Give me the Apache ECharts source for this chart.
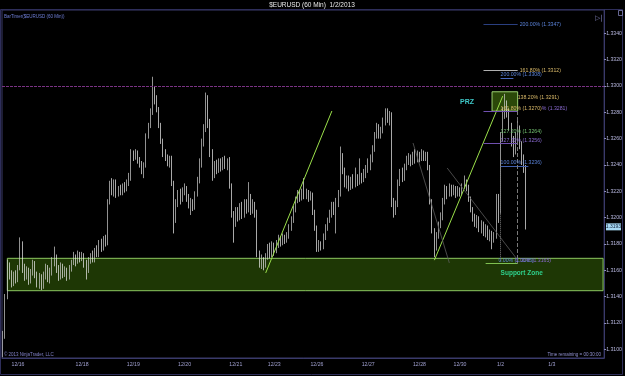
<!DOCTYPE html>
<html><head><meta charset="utf-8">
<script src="https://cdn.jsdelivr.net/npm/echarts@6/dist/echarts.min.js"></script>
<style>html,body{margin:0;padding:0;background:#000;}#c{width:625px;height:376px;}</style>
</head><body><div id="c"></div>
<script>
// ---- data (60-min bars, $EURUSD) ----
const opens = [
1.3098,1.3112,1.3140,1.3163,1.3158,1.3150,1.3157,1.3153,1.3162,1.3180,
1.3163,1.3156,1.3160,1.3152,1.3158,1.3165,1.3157,1.3150,1.3155,1.3148,
1.3156,1.3162,1.3154,1.3158,1.3166,1.3170,1.3161,1.3156,1.3163,1.3157,
1.3160,1.3155,1.3161,1.3166,1.3170,1.3167,1.3172,1.3169,1.3171,1.3165,
1.3160,1.3167,1.3170,1.3168,1.3174,1.3172,1.3180,1.3177,1.3183,1.3181,
1.3212,1.3224,1.3220,1.3227,1.3218,1.3222,1.3219,1.3223,1.3221,1.3226,
1.3229,1.3249,1.3246,1.3250,1.3244,1.3241,1.3237,1.3240,1.3262,1.3270,
1.3280,1.3293,1.3290,1.3282,1.3270,1.3258,1.3250,1.3246,1.3242,1.3245,
1.3226,1.3198,1.3212,1.3218,1.3214,1.3220,1.3222,1.3216,1.3210,1.3212,
1.3208,1.3218,1.3228,1.3240,1.3256,1.3268,1.3290,1.3272,1.3250,1.3232,
1.3240,1.3236,1.3242,1.3238,1.3243,1.3240,1.3242,1.3224,1.3202,1.3196,
1.3205,1.3200,1.3208,1.3203,1.3210,1.3206,1.3212,1.3206,1.3210,1.3204,
1.3172,1.3165,1.3168,1.3163,1.3170,1.3176,1.3172,1.3178,1.3175,1.3180,
1.3184,1.3181,1.3185,1.3183,1.3186,1.3192,1.3198,1.3206,1.3213,1.3219,
1.3215,1.3219,1.3216,1.3219,1.3214,1.3217,1.3204,1.3192,1.3177,1.3180,
1.3178,1.3185,1.3192,1.3198,1.3203,1.3209,1.3206,1.3212,1.3218,1.3247,
1.3236,1.3226,1.3230,1.3224,1.3228,1.3225,1.3230,1.3227,1.3232,1.3229,
1.3234,1.3236,1.3240,1.3244,1.3252,1.3262,1.3268,1.3263,1.3266,1.3272,
1.3280,1.3275,1.3278,1.3212,1.3205,1.3210,1.3226,1.3234,1.3230,1.3238,
1.3242,1.3246,1.3242,1.3247,1.3244,1.3248,1.3245,1.3249,1.3246,1.3248,
1.3238,1.3212,1.3190,1.3178,1.3186,1.3194,1.3200,1.3212,1.3222,1.3218,
1.3223,1.3219,1.3222,1.3218,1.3221,1.3219,1.3224,1.3227,1.3223,1.3214,
1.3206,1.3200,1.3196,1.3199,1.3192,1.3195,1.3189,1.3192,1.3186,1.3188,
1.3184,1.3186,1.3215,1.3205,1.3262,1.3278,1.3285,1.3280,1.3270,1.3258,
1.3250,1.3262,1.3268,1.3256,1.3245,1.3238];
const closes = [
1.3112,1.3140,1.3163,1.3158,1.3150,1.3157,1.3153,1.3162,1.3180,1.3163,
1.3156,1.3160,1.3152,1.3158,1.3165,1.3157,1.3150,1.3155,1.3148,1.3156,
1.3162,1.3154,1.3158,1.3166,1.3170,1.3161,1.3156,1.3163,1.3157,1.3160,
1.3155,1.3161,1.3166,1.3170,1.3167,1.3172,1.3169,1.3171,1.3165,1.3160,
1.3167,1.3170,1.3168,1.3174,1.3172,1.3180,1.3177,1.3183,1.3181,1.3212,
1.3224,1.3220,1.3227,1.3218,1.3222,1.3219,1.3223,1.3221,1.3226,1.3229,
1.3249,1.3246,1.3250,1.3244,1.3241,1.3237,1.3240,1.3262,1.3270,1.3280,
1.3293,1.3290,1.3282,1.3270,1.3258,1.3250,1.3246,1.3242,1.3245,1.3226,
1.3198,1.3212,1.3218,1.3214,1.3220,1.3222,1.3216,1.3210,1.3212,1.3208,
1.3218,1.3228,1.3240,1.3256,1.3268,1.3290,1.3272,1.3250,1.3232,1.3240,
1.3236,1.3242,1.3238,1.3243,1.3240,1.3242,1.3224,1.3202,1.3196,1.3205,
1.3200,1.3208,1.3203,1.3210,1.3206,1.3212,1.3206,1.3210,1.3204,1.3172,
1.3165,1.3168,1.3163,1.3170,1.3176,1.3172,1.3178,1.3175,1.3180,1.3184,
1.3181,1.3185,1.3183,1.3186,1.3192,1.3198,1.3206,1.3213,1.3219,1.3215,
1.3219,1.3216,1.3219,1.3214,1.3217,1.3204,1.3192,1.3177,1.3180,1.3178,
1.3185,1.3192,1.3198,1.3203,1.3209,1.3206,1.3212,1.3218,1.3247,1.3236,
1.3226,1.3230,1.3224,1.3228,1.3225,1.3230,1.3227,1.3232,1.3229,1.3234,
1.3236,1.3240,1.3244,1.3252,1.3262,1.3268,1.3263,1.3266,1.3272,1.3280,
1.3275,1.3278,1.3212,1.3205,1.3210,1.3226,1.3234,1.3230,1.3238,1.3242,
1.3246,1.3242,1.3247,1.3244,1.3248,1.3245,1.3249,1.3246,1.3248,1.3238,
1.3212,1.3190,1.3178,1.3186,1.3194,1.3200,1.3212,1.3222,1.3218,1.3223,
1.3219,1.3222,1.3218,1.3221,1.3219,1.3224,1.3227,1.3223,1.3214,1.3206,
1.3200,1.3196,1.3199,1.3192,1.3195,1.3189,1.3192,1.3186,1.3188,1.3184,
1.3186,1.3215,1.3205,1.3262,1.3278,1.3285,1.3280,1.3270,1.3258,1.3250,
1.3262,1.3268,1.3256,1.3245,1.3238,1.3193];
const lows = [
1.3094,1.3108,1.3138,1.3153,1.3147,1.3148,1.3150,1.3151,1.3160,1.3158,
1.3152,1.3153,1.3149,1.3150,1.3156,1.3154,1.3147,1.3146,1.3145,1.3146,
1.3153,1.3151,1.3150,1.3156,1.3163,1.3158,1.3152,1.3153,1.3154,1.3155,
1.3152,1.3153,1.3159,1.3164,1.3163,1.3165,1.3166,1.3167,1.3162,1.3153,
1.3158,1.3165,1.3166,1.3166,1.3170,1.3170,1.3174,1.3175,1.3178,1.3179,
1.3210,1.3217,1.3216,1.3215,1.3216,1.3217,1.3217,1.3219,1.3220,1.3224,
1.3228,1.3243,1.3244,1.3241,1.3238,1.3233,1.3230,1.3238,1.3260,1.3268,
1.3278,1.3286,1.3280,1.3268,1.3256,1.3246,1.3243,1.3239,1.3238,1.3224,
1.3188,1.3196,1.3208,1.3210,1.3212,1.3217,1.3212,1.3207,1.3202,1.3205,
1.3206,1.3216,1.3226,1.3238,1.3254,1.3265,1.3268,1.3246,1.3228,1.3230,
1.3233,1.3234,1.3235,1.3236,1.3237,1.3236,1.3222,1.3200,1.3181,1.3193,
1.3197,1.3198,1.3199,1.3200,1.3203,1.3204,1.3202,1.3203,1.3200,1.3170,
1.3162,1.3161,1.3160,1.3162,1.3168,1.3169,1.3170,1.3171,1.3173,1.3177,
1.3178,1.3179,1.3180,1.3181,1.3184,1.3190,1.3196,1.3204,1.3211,1.3212,
1.3213,1.3214,1.3214,1.3212,1.3213,1.3202,1.3190,1.3174,1.3174,1.3175,
1.3176,1.3183,1.3190,1.3196,1.3200,1.3202,1.3188,1.3208,1.3216,1.3233,
1.3223,1.3222,1.3220,1.3221,1.3222,1.3223,1.3224,1.3225,1.3226,1.3227,
1.3230,1.3234,1.3236,1.3242,1.3250,1.3260,1.3260,1.3260,1.3264,1.3270,
1.3272,1.3270,1.3208,1.3200,1.3202,1.3208,1.3224,1.3227,1.3228,1.3236,
1.3240,1.3239,1.3240,1.3241,1.3242,1.3242,1.3243,1.3243,1.3243,1.3236,
1.3210,1.3188,1.3170,1.3175,1.3184,1.3192,1.3198,1.3210,1.3214,1.3216,
1.3216,1.3217,1.3215,1.3216,1.3216,1.3217,1.3222,1.3220,1.3212,1.3204,
1.3197,1.3193,1.3192,1.3189,1.3188,1.3186,1.3185,1.3183,1.3182,1.3176,
1.3181,1.3184,1.3196,1.3203,1.3258,1.3275,1.3276,1.3266,1.3254,1.3246,
1.3248,1.3258,1.3252,1.3240,1.3234,1.3191];
const highs = [
1.3114,1.3142,1.3168,1.3166,1.3160,1.3159,1.3160,1.3164,1.3185,1.3182,
1.3165,1.3163,1.3162,1.3161,1.3168,1.3167,1.3159,1.3158,1.3157,1.3159,
1.3165,1.3164,1.3162,1.3170,1.3178,1.3172,1.3164,1.3166,1.3165,1.3163,
1.3162,1.3164,1.3168,1.3174,1.3172,1.3175,1.3174,1.3174,1.3173,1.3168,
1.3170,1.3173,1.3175,1.3177,1.3179,1.3183,1.3184,1.3186,1.3187,1.3214,
1.3228,1.3230,1.3229,1.3229,1.3224,1.3225,1.3226,1.3227,1.3229,1.3234,
1.3252,1.3251,1.3252,1.3251,1.3246,1.3243,1.3242,1.3264,1.3272,1.3283,
1.3307,1.3300,1.3293,1.3284,1.3272,1.3260,1.3252,1.3248,1.3247,1.3247,
1.3228,1.3214,1.3221,1.3222,1.3223,1.3226,1.3224,1.3218,1.3215,1.3214,
1.3220,1.3231,1.3245,1.3260,1.3271,1.3295,1.3293,1.3275,1.3252,1.3243,
1.3244,1.3245,1.3245,1.3246,1.3247,1.3245,1.3246,1.3226,1.3205,1.3208,
1.3208,1.3211,1.3212,1.3214,1.3214,1.3227,1.3218,1.3214,1.3212,1.3206,
1.3175,1.3172,1.3170,1.3173,1.3180,1.3181,1.3182,1.3181,1.3183,1.3187,
1.3186,1.3188,1.3187,1.3189,1.3195,1.3201,1.3209,1.3216,1.3221,1.3221,
1.3222,1.3230,1.3222,1.3221,1.3220,1.3219,1.3206,1.3194,1.3183,1.3182,
1.3188,1.3195,1.3200,1.3206,1.3212,1.3212,1.3215,1.3221,1.3254,1.3249,
1.3238,1.3232,1.3232,1.3231,1.3233,1.3238,1.3233,1.3245,1.3234,1.3237,
1.3240,1.3245,1.3248,1.3255,1.3265,1.3272,1.3271,1.3269,1.3276,1.3283,
1.3283,1.3281,1.3280,1.3215,1.3213,1.3229,1.3237,1.3238,1.3241,1.3247,
1.3249,1.3248,1.3250,1.3252,1.3251,1.3250,1.3252,1.3251,1.3250,1.3250,
1.3240,1.3214,1.3192,1.3189,1.3197,1.3204,1.3215,1.3225,1.3224,1.3226,
1.3225,1.3225,1.3224,1.3224,1.3223,1.3226,1.3232,1.3229,1.3225,1.3216,
1.3208,1.3203,1.3202,1.3201,1.3198,1.3197,1.3195,1.3194,1.3191,1.3190,
1.3189,1.3218,1.3218,1.3265,1.3284,1.3294,1.3289,1.3283,1.3272,1.3262,
1.3265,1.3275,1.3270,1.3258,1.3248,1.3240];

const barCount = 282;                 // hourly slots across the plot (incl. empty future)
const tickIdx  = [7,37,61,85,109,127,147,171,195,214,233,257];
const tickText = ['12/16','12/18','12/19','12/20','12/21','12/23','12/26','12/27','12/28','12/30','1/2','1/3'];
const yTicks   = [1.3100,1.3120,1.3140,1.3160,1.3180,1.3200,1.3220,1.3240,1.3260,1.3280,1.3300,1.3320,1.3340];
const yMin = 1.30934, yMax = 1.33577;

const supportZone = {from:[2,1.31691], to:[281,1.31445]};
const przZone     = {from:[229,1.32956], to:[241,1.32809]};
const resistance  = 1.32939;
const trend1 = [[123,1.3158],[154,1.3281]];
const trend2 = [[202,1.31677],[234,1.32923]];
const pattern1 = [[192,1.32567],[209,1.31656]];
const pattern2 = [[208,1.32377],[241,1.31678]];
const lastPrice = 1.3193;

// ---- chart ----
const chart = echarts.init(document.getElementById('c'), null, {renderer:'canvas'});
const ohlc = opens.map((o,i)=>[o, closes[i], lows[i], highs[i]]);
const cats = Array.from({length:barCount},(_,i)=>String(i));
const labelMap = {}; tickIdx.forEach((k,j)=>{labelMap[k]=tickText[j];});

const FS = 5.2;
const BLUE='#5a82d8', GOLD='#d8b868', PURP='#8a6ad0', GRN='#72c070';
function fibLine(x1,x2,p,color,label,lcolor,type){
  return [{coord:[x1,p],lineStyle:{color:color,width:1,type:type||'solid'},
           label:label?{show:true,position:'end',distance:2,formatter:label,color:lcolor,fontSize:FS}:{show:false}},
          {coord:[x2,p]}];
}
function seg(a,b,color,type,w){
  return [{coord:a,lineStyle:{color:color,width:w||1,type:type||'solid'},label:{show:false}},{coord:b}];
}
function txt(x,p,str,color,opts){
  return Object.assign({coord:[x,p],value:0,symbolSize:0.1,itemStyle:{color:'rgba(0,0,0,0)'},
    label:{show:true,position:'right',distance:0,formatter:str,color:color,fontSize:FS}},opts||{});
}

const option = {
  backgroundColor:'#000',
  animation:false,
  textStyle:{fontFamily:'Liberation Sans'},
  grid:{left:2,right:19,top:10,bottom:18,show:true,borderColor:'#3a3a6a',borderWidth:1},
  xAxis:{type:'category',data:cats,boundaryGap:true,
    axisLine:{show:true,lineStyle:{color:'#3a3a6a'}},axisTick:{show:false},splitLine:{show:false},
    axisLabel:{interval:(i)=>labelMap[i]!==undefined,formatter:(v,i)=>labelMap[i]||'',color:'#a0a0d0',fontSize:FS,margin:4}},
  yAxis:{type:'value',position:'right',min:yMin,max:yMax,
    axisLine:{show:true,lineStyle:{color:'#3a3a6a'}},
    axisTick:{show:true,customValues:yTicks,length:2,lineStyle:{color:'#9090c0'}},
    axisLabel:{customValues:yTicks,formatter:v=>v.toFixed(4),color:'#b8b8e0',fontSize:FS,margin:2},
    splitLine:{show:false}},
  series:[
    {type:'candlestick',name:'EURUSD',data:ohlc,barWidth:1.1,z:2,
      itemStyle:{color:'#000000',borderColor:'#d0d0d0',color0:'#ffffff',borderColor0:'#f0f0f0',borderWidth:0.7}},
    {type:'line',data:[],z:3,silent:true,
      markArea:{silent:true,data:[
        [{coord:supportZone.from,itemStyle:{color:'rgba(81,149,14,0.37)',borderColor:'#8cc860',borderWidth:1}},{coord:supportZone.to}],
        [{coord:przZone.from,itemStyle:{color:'rgba(95,160,20,0.45)',borderColor:'#9ad070',borderWidth:1}},{coord:przZone.to}]
      ]},
      markLine:{silent:true,symbol:'none',label:{show:false},data:[
        {yAxis:resistance,lineStyle:{color:'#7a3384',width:1,type:[3,1]}}
      ]}},
    {type:'line',data:trend1,z:4,showSymbol:false,silent:true,lineStyle:{color:'#9be04a',width:1}},
    {type:'line',data:trend2,z:4,showSymbol:false,silent:true,lineStyle:{color:'#9be04a',width:1}},
    {type:'line',data:pattern1,z:4,showSymbol:false,silent:true,lineStyle:{color:'#5c5c5c',width:0.8}},
    {type:'line',data:pattern2,z:4,showSymbol:false,silent:true,lineStyle:{color:'#5c5c5c',width:0.8}},
    {type:'line',data:[],z:5,silent:true,
      markLine:{silent:true,symbol:'none',data:[
        fibLine(225,241,1.3347,'#2a3f80','200.00% (1.3347)',BLUE),
        fibLine(225,241,1.3312,'#b0b0b0','161.80% (1.3312)',GOLD),
        fibLine(233,239,1.33055,'#4a6ac0'),
        fibLine(225,241,1.3281,'#7050b0'),
        fibLine(225,241,1.32567,'#7050b0'),
        fibLine(233,246,1.3239,'#4060b0'),
        fibLine(226,241,1.31652,'#7fc050'),
        seg([233,1.3239],[233,1.3167],'#7a7a7a','dotted'),
        seg([241,1.3281],[241,1.3165],'#7a7a7a','dashed')
      ]},
      markPoint:{silent:true,data:[
        txt(233,1.33085,'200.00% (1.3308)',BLUE),
        txt(241,1.32915,'138.20% (1.3291)',GOLD),
        txt(233,1.32825,'',GOLD,{label:{show:true,position:'right',distance:0,formatter:'{g|161.80% (1.3270)}{p|% (1.3281)}',rich:{g:{color:GOLD,fontSize:FS},p:{color:PURP,fontSize:FS}}}}),
        txt(233,1.32655,'127.20% (1.3264)',GRN),
        txt(233,1.32585,'127.20% (1.3256)',PURP),
        txt(233,1.32415,'100.00% (1.3236)',BLUE),
        txt(232,1.31672,'0.00% (1.3165)',BLUE),
        txt(240,1.31672,'0.00% (1.3165)',PURP),
        txt(214,1.32881,'PRZ','#3ec8c8',{label:{show:true,position:'right',distance:0,formatter:'PRZ',color:'#3ec8c8',fontSize:7,fontWeight:'bold'}}),
        txt(233,1.3158,'Support Zone','#2ed08c',{label:{show:true,position:'right',distance:0,formatter:'Support Zone',color:'#2ed08c',fontSize:6.5,fontWeight:'bold'}})
      ]}}
  ]
};
chart.setOption(option);

const py = chart.convertToPixel({yAxisIndex:0}, lastPrice);
chart.setOption({graphic:[
  {type:'rect',shape:{x:0.5,y:9.5,width:622,height:365},style:{fill:'none',stroke:'#2e2e5a',lineWidth:1},silent:true,z:0},
  {type:'text',x:312,y:2,style:{text:'$EURUSD (60 Min)  1/2/2013',fill:'#e8e8e8',font:'6.5px "Liberation Sans"',textAlign:'center'}},
  {type:'text',x:4,y:14,style:{text:'BarTimer($EURUSD (60 Min))',fill:'#6f7fd8',font:'4.5px "Liberation Sans"'}},
  {type:'text',x:4,y:352,style:{text:'© 2013 NinjaTrader, LLC',fill:'#8080c8',font:'4.5px "Liberation Sans"'}},
  {type:'text',x:601,y:352,style:{text:'Time remaining = 00:30:00',fill:'#9090d0',font:'4.5px "Liberation Sans"',textAlign:'right'}},
  {type:'text',x:595,y:15,style:{text:'▷|',fill:'#8080b8',font:'7px "DejaVu Sans"'}},
  {type:'rect',shape:{x:618.5,y:10.5,width:4,height:5},style:{fill:'none',stroke:'#8080b8',lineWidth:0.8}},
  {type:'rect',shape:{x:606,y:py-3.5,width:15,height:7},style:{fill:'#a6d8f2'},z:10},
  {type:'text',x:613.5,y:py-2.6,style:{text:lastPrice.toFixed(4),fill:'#10203a',font:'5px "Liberation Sans"',textAlign:'center'},z:11}
]});
</script>
</body></html>
